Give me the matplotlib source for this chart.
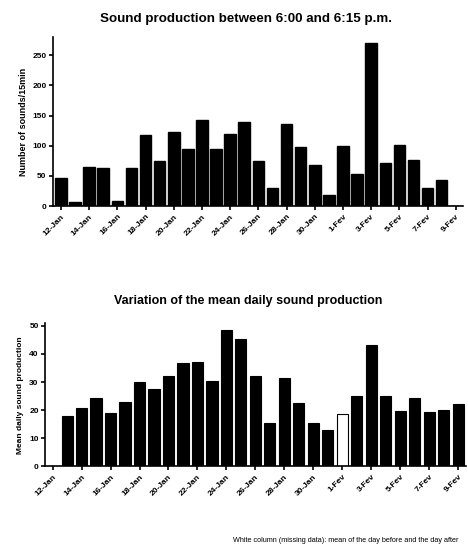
import numpy as np
import matplotlib
matplotlib.use("Agg")
import matplotlib.pyplot as plt

plt.rcParams.update({
    "font.family": "Liberation Sans",
    "axes.linewidth": 1.2,
    "xtick.major.width": 1.2,
    "ytick.major.width": 1.2,
    "xtick.major.size": 3,
    "ytick.major.size": 3,
    "xtick.direction": "out",
    "ytick.direction": "out",
})

days = ["12-Jan", "13-Jan", "14-Jan", "15-Jan", "16-Jan", "17-Jan", "18-Jan",
        "19-Jan", "20-Jan", "21-Jan", "22-Jan", "23-Jan", "24-Jan", "25-Jan",
        "26-Jan", "27-Jan", "28-Jan", "29-Jan", "30-Jan", "31-Jan", "1-Fev",
        "2-Fev", "3-Fev", "4-Fev", "5-Fev", "6-Fev", "7-Fev", "8-Fev", "9-Fev"]

sounds_15min = [47, 6, 65, 63, 9, 63, 118, 74, 123, 94, 142, 94, 119, 139,
                74, 30, 136, 98, 68, 19, 99, 54, 270, 71, 101, 76, 30, 43, 0]

mean_daily = [0, 18.1, 20.8, 24.4, 19.1, 23.0, 30.2, 27.6, 32.1, 36.8, 37.2,
              30.5, 48.5, 45.3, 32.1, 15.6, 31.3, 22.7, 15.5, 12.8, 18.8,
              24.9, 43.1, 25.1, 19.8, 24.4, 19.5, 19.9, 22.1]

missing = "1-Fev"

x = np.arange(len(days))
tick_idx = x[::2]

fig = plt.figure(figsize=(4.68, 5.54), dpi=100)

ax1 = fig.add_axes([0.113, 0.628, 0.876, 0.305])
ax1.bar(x, sounds_15min, width=0.82, color="black", edgecolor="black")
ax1.set_xlim(-0.57, 28.5)
ax1.set_ylim(0, 280)
ax1.set_yticks([0, 50, 100, 150, 200, 250])
ax1.set_ylabel("Number of sounds/15min", fontsize=6.5, fontweight="bold", labelpad=3)

ax2 = fig.add_axes([0.096, 0.158, 0.9, 0.259])
colors = ["white" if d == missing else "black" for d in days]
ax2.bar(x, mean_daily, width=0.77, color=colors, edgecolor="black", linewidth=0.8)
ax2.set_xlim(-0.53, 28.55)
ax2.set_ylim(0, 51)
ax2.set_yticks([0, 10, 20, 30, 40, 50])
ax2.set_ylabel("Mean daily sound production", fontsize=6, fontweight="bold", labelpad=4)

for ax in (ax1, ax2):
    ax.spines["top"].set_visible(False)
    ax.spines["right"].set_visible(False)
    ax.set_xticks(tick_idx)
    ax.set_xticklabels([days[i] for i in tick_idx], rotation=45, ha="right",
                       rotation_mode="anchor", fontsize=6, fontweight="bold")
    ax.tick_params(axis="y", labelsize=6, pad=1.5)
    ax.tick_params(axis="x", pad=2)
    for lab in ax.get_yticklabels():
        lab.set_fontweight("bold")

fig.text(0.525, 0.965, "Sound production between 6:00 and 6:15 p.m.",
         ha="center", va="center", fontsize=9.6, fontweight="bold")
fig.text(0.53, 0.457, "Variation of the mean daily sound production",
         ha="center", va="center", fontsize=9.0, fontweight="bold")
fig.text(0.497, 0.0235, "White column (missing data): mean of the day before and the day after",
         ha="left", va="center", fontsize=5.2)

fig.savefig("out.png", dpi=100)
